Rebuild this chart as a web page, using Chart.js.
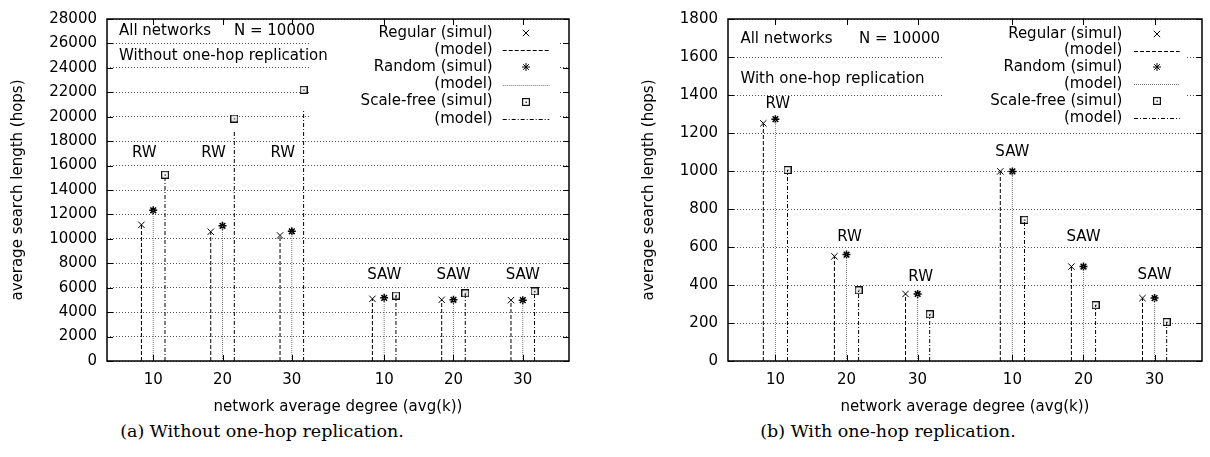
<!DOCTYPE html>
<html>
<head>
<meta charset="utf-8">
<script src="https://cdn.jsdelivr.net/npm/chart.js@4.4.1/dist/chart.umd.min.js"></script>
<style>
  body { margin: 0; background: #fff; }
  #wrap { position: relative; width: 1210px; height: 457px; overflow: hidden; }
  canvas { position: absolute; top: 0; }
  .cap { position: absolute; font-family: "DejaVu Serif", serif; font-size: 17.5px; color: #000; white-space: nowrap; transform: translateX(-50%); }
</style>
</head>
<body>
<div id="wrap">
  <canvas id="chartA" width="600" height="420" style="left:0"></canvas>
  <canvas id="chartB" width="610" height="420" style="left:600px"></canvas>
  <div class="cap" style="left:262px; top:421px">(a) Without one-hop replication.</div>
  <div class="cap" style="left:888px; top:421px">(b) With one-hop replication.</div>
</div>
<script>
// x positions of the six groups (RW 10/20/30, SAW 10/20/30) and their labels
const degreeTicks = [10, 20, 30, 43.33, 53.33, 63.33];
const degreeLabels = ["10", "20", "30", "10", "20", "30"];
const algoNames = ["RW", "RW", "RW", "SAW", "SAW", "SAW"];

// (a) without one-hop replication
const regularSimulA = [11150, 10580, 10280, 5090, 5010, 4980];
const regularModelA = [11150, 10580, 10280, 5090, 5010, 4980];
const randomSimulA = [12340, 11070, 10620, 5170, 5010, 4980];
const randomModelA = [12340, 11070, 10620, 5170, 5010, 4980];
const scaleFreeSimulA = [15250, 19850, 22200, 5360, 5540, 5700];
const scaleFreeModelA = [14900, 18900, 20600, 5360, 5540, 5700];

// (b) with one-hop replication
const regularSimulB = [1251, 551, 353, 998, 497, 331];
const regularModelB = [1251, 551, 353, 998, 497, 331];
const randomSimulB = [1273, 560, 353, 998, 497, 331];
const randomModelB = [1273, 560, 353, 998, 497, 331];
const scaleFreeSimulB = [1005, 372, 246, 743, 294, 205];
const scaleFreeModelB = [1005, 372, 246, 743, 294, 205];

const shift = 1.7;

Chart.defaults.font.family = "'DejaVu Sans', sans-serif";
Chart.defaults.font.size = 15;
Chart.defaults.color = "#000";

function boxDot() {
  const c = document.createElement("canvas");
  c.width = 8; c.height = 8;
  const g = c.getContext("2d");
  g.fillStyle = "#fff"; g.fillRect(0, 0, 8, 8);
  g.strokeStyle = "#111"; g.lineWidth = 1.2;
  g.strokeRect(0.6, 0.6, 6.8, 6.8);
  g.fillStyle = "#333"; g.fillRect(3.5, 3.5, 1.5, 1.5);
  return c;
}
const sfMarker = boxDot();

const styles = {
  regModel: { color: "#000", dash: [4, 2] },
  randModel: { color: "#777", dash: [1, 1] },
  sfModel: { color: "#000", dash: [4, 2, 1, 2] }
};

function impulses(xs, ys) {
  const pts = [];
  xs.forEach((x, i) => pts.push({ x: x, y: 0 }, { x: x, y: ys[i] }, { x: x, y: null }));
  return pts;
}
function points(xs, ys) {
  return xs.map((x, i) => ({ x: x, y: ys[i] }));
}

const decor = {
  id: "decor",
  beforeDatasetsDraw(chart, args, o) {
    const { ctx, chartArea: a } = chart;
    ctx.save();
    ctx.fillStyle = "#fff";
    ctx.fillRect(a.left + o.box[0], a.top + 1, o.box[1] - o.box[0], o.box[2]);
    ctx.restore();
  },
  afterDatasetsDraw(chart, args, o) {
    const { ctx, chartArea: a, scales } = chart;
    ctx.save();
    // frame
    ctx.strokeStyle = "#000";
    ctx.lineWidth = 1.5;
    ctx.strokeRect(a.left, a.top, a.right - a.left, a.bottom - a.top);
    // inward ticks
    ctx.lineWidth = 1;
    ctx.beginPath();
    scales.y.ticks.forEach(t => {
      const y = Math.round(scales.y.getPixelForValue(t.value)) + 0.5;
      ctx.moveTo(a.left, y); ctx.lineTo(a.left + 6, y);
      ctx.moveTo(a.right, y); ctx.lineTo(a.right - 6, y);
    });
    degreeTicks.forEach(v => {
      const x = Math.round(scales.x.getPixelForValue(v)) + 0.5;
      ctx.moveTo(x, a.top); ctx.lineTo(x, a.top + 6);
      ctx.moveTo(x, a.bottom); ctx.lineTo(x, a.bottom - 6);
    });
    ctx.stroke();

    ctx.fillStyle = "#000";
    ctx.font = "15px 'DejaVu Sans'";
    ctx.textBaseline = "middle";
    // info texts
    ctx.textAlign = "left";
    o.info.forEach(t => ctx.fillText(t[0], a.left + t[1], a.top + t[2]));
    // algorithm labels
    ctx.textAlign = "center";
    o.algo.x.forEach((x, i) => {
      ctx.fillText(algoNames[i], scales.x.getPixelForValue(x), scales.y.getPixelForValue(o.algo.y[i]));
    });
    // key
    const k = o.key;
    const rows = [
      ["Regular (simul)", "crossRot"], ["(model)", styles.regModel],
      ["Random (simul)", "star"], ["(model)", styles.randModel],
      ["Scale-free (simul)", sfMarker], ["(model)", styles.sfModel]
    ];
    rows.forEach((r, i) => {
      const y = a.top + k.y0 + k.dy * i;
      ctx.textAlign = "right";
      ctx.fillText(r[0], a.left + k.text, y);
      if (typeof r[1] === "object" && r[1].dash) {
        ctx.save();
        ctx.strokeStyle = r[1].color;
        ctx.setLineDash(r[1].dash);
        ctx.beginPath();
        ctx.moveTo(a.left + k.s0, Math.round(y) + 0.5);
        ctx.lineTo(a.left + k.s1, Math.round(y) + 0.5);
        ctx.stroke();
        ctx.restore();
      } else {
        const mx = Math.round(a.left + (k.s0 + k.s1) / 2);
        Chart.helpers.drawPoint(ctx, {
          pointStyle: r[1], radius: r[1] === "crossRot" ? 4.5 : 4, borderWidth: r[1] === "star" ? 1.5 : 1
        }, mx, Math.round(y));
      }
    });
    ctx.restore();
  }
};

function makeChart(id, d, opt) {
  const xReg = degreeTicks.map(v => v - shift);
  const xRand = degreeTicks.slice();
  const xSf = degreeTicks.map(v => v + shift);
  const line = (data, st) => ({
    type: "scatter", data: data, showLine: true, spanGaps: false,
    borderColor: st.color, borderWidth: 1, borderDash: st.dash,
    pointRadius: 0, pointHoverRadius: 0
  });
  const marks = (data, ps, r, bw) => ({
    type: "scatter", data: data, pointStyle: ps, pointRadius: r,
    borderColor: "#000", backgroundColor: "#000", borderWidth: bw
  });
  return new Chart(document.getElementById(id), {
    type: "scatter",
    data: {
      datasets: [
        line(impulses(xReg, d.regModel), styles.regModel),
        line(impulses(xRand, d.randModel), styles.randModel),
        line(impulses(xSf, d.sfModel), styles.sfModel),
        marks(points(xReg, d.regSimul), "crossRot", 4.5, 1),
        marks(points(xRand, d.randSimul), "star", 4, 1.5),
        marks(points(xSf, d.sfSimul), sfMarker, 4, 1)
      ]
    },
    options: {
      responsive: false,
      animation: false,
      devicePixelRatio: 1,
      layout: { autoPadding: false, padding: { left: 0, top: 7, right: opt.padRight, bottom: 0 } },
      plugins: {
        legend: { display: false },
        tooltip: { enabled: false },
        decor: opt.decor
      },
      scales: {
        x: {
          type: "linear", min: 3.33, max: 70,
          grid: { display: false },
          border: { display: false },
          afterBuildTicks: s => { s.ticks = degreeTicks.map(v => ({ value: v })); },
          ticks: { padding: 2, maxRotation: 0, autoSkip: false,
            callback: (v, i) => degreeLabels[i] },
          afterFit: s => { s.height = 59; },
          title: { display: true, text: "network average degree (avg(k))", padding: { top: 0, bottom: 4 } }
        },
        y: {
          min: 0, max: opt.yMax,
          ticks: { stepSize: opt.yStep, padding: 10, callback: v => String(v) },
          grid: { color: "#555", lineWidth: 1, drawTicks: false },
          border: { display: false, dash: [1, 2] },
          afterFit: s => { s.width = opt.yWidth; },
          title: { display: true, text: "average search length (hops)", padding: { top: opt.yTitlePad, bottom: 0 } }
        }
      }
    },
    plugins: [decor]
  });
}

makeChart("chartA", {
  regModel: regularModelA, randModel: randomModelA, sfModel: scaleFreeModelA,
  regSimul: regularSimulA, randSimul: randomSimulA, sfSimul: scaleFreeSimulA
}, {
  yMax: 28000, yStep: 2000, yWidth: 107, padRight: 31, yTitlePad: 9,
  decor: {
    box: [203, 451, 112],
    info: [["All networks", 12, 12.5], ["N = 10000", 127, 12.5], ["Without one-hop replication", 12, 37.5]],
    algo: { x: [8.7, 18.7, 28.7, 43.33, 53.33, 63.33], y: [17000, 17000, 17000, 7000, 7000, 7000] },
    key: { text: 385.7, s0: 395.7, s1: 442.3, y0: 14.2, dy: 17.1 }
  }
});

makeChart("chartB", {
  regModel: regularModelB, randModel: randomModelB, sfModel: scaleFreeModelB,
  regSimul: regularSimulB, randSimul: randomSimulB, sfSimul: scaleFreeSimulB
}, {
  yMax: 1800, yStep: 200, yWidth: 128, padRight: 8, yTitlePad: 40,
  decor: {
    box: [214, 459, 112],
    info: [["All networks", 12.4, 20.2], ["N = 10000", 131, 20.2], ["With one-hop replication", 12.4, 60.2]],
    algo: { x: [10.33, 20.43, 30.43, 43.33, 53.33, 63.33], y: [1350, 650, 440, 1100, 650, 450] },
    key: { text: 394.4, s0: 406, s1: 451.7, y0: 14.8, dy: 16.8 }
  }
});
</script>
</body>
</html>
